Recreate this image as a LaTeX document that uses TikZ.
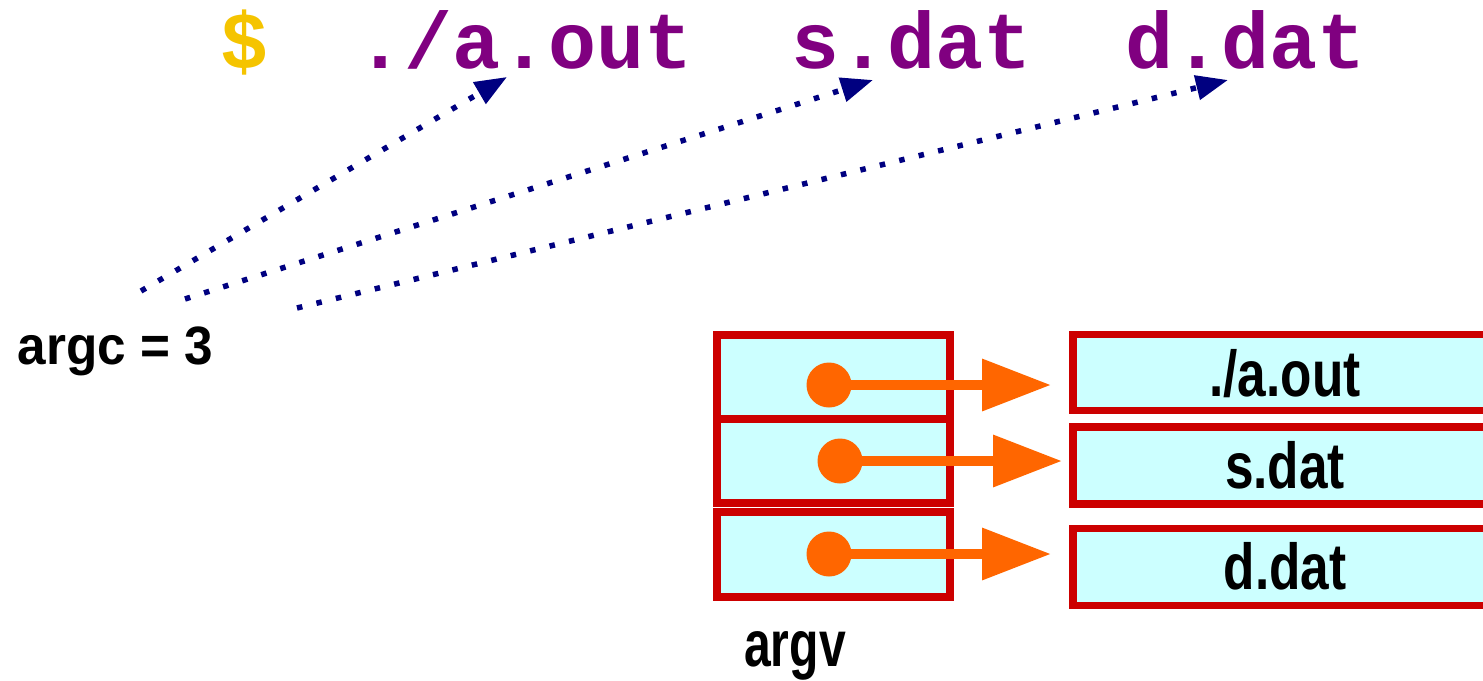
\documentclass[tikz,border=0pt]{standalone}
\usepackage{fontspec}
\usetikzlibrary{arrows.meta}
\newfontfamily\courfont{Liberation Mono}
\newfontfamily\argcfont[FakeStretch=0.95]{Liberation Sans}
\newfontfamily\boxfont[FakeStretch=0.79]{Liberation Sans}
\newfontfamily\argvfont[FakeStretch=0.74]{Liberation Sans}
\definecolor{cmdpurple}{HTML}{800080}
\definecolor{dollar}{HTML}{F5C400}
\definecolor{navyarrow}{HTML}{000080}
\definecolor{boxred}{HTML}{CC0000}
\definecolor{boxfill}{HTML}{CCFFFF}
\definecolor{ptrorange}{HTML}{FF6600}
\tikzset{
  cmdword/.style={anchor=base, inner sep=0pt, text=cmdpurple, font=\courfont\bfseries\fontsize{80}{86}\selectfont},
  cellbox/.style={draw=boxred, fill=boxfill, line width=7.5pt, minimum width=233pt, inner sep=0pt},
  strbox/.style={draw=boxred, fill=boxfill, line width=7.5pt, minimum width=422pt, inner sep=0pt},
  strtext/.style={anchor=base, inner sep=0pt, font=\boxfont\bfseries\fontsize{65}{70}\selectfont},
  dotarrow/.style={navyarrow, line width=5.5pt, dash pattern=on 5.5pt off 14.5pt, -{Triangle[length=32pt,width=24pt]}},
  ptrdot/.style={circle, fill=ptrorange, minimum size=45pt, inner sep=0pt},
  ptrarrow/.style={ptrorange, line width=10pt, -{Triangle[length=69pt,width=50pt]}}
}
\begin{document}
\begin{tikzpicture}[x=1pt,y=-1pt]
\useasboundingbox (0,0) rectangle (1483,680);
\clip (0,0) rectangle (1483,680);
% command line
\node[cmdword, text=dollar] (dollar) at (245,68) {\$};
\node[cmdword] (w1) at (525,68) {./a.out};
\node[cmdword] (w2) at (912,68) {s.dat};
\node[cmdword] (w3) at (1246,68) {d.dat};
% argc
\node[anchor=base, inner sep=0pt, font=\argcfont\bfseries\fontsize{54}{60}\selectfont] (argc) at (115.5,364) {argc = 3};
\coordinate (s1) at (141,291);
\coordinate (s2) at (185,299);
\coordinate (s3) at (297,308);
\coordinate (e1) at (507,77);
\coordinate (e2) at (873,80);
\coordinate (e3) at (1228,80);
\draw[dotarrow] (s1) -- (e1);
\draw[dotarrow] (s2) -- (e2);
\draw[dotarrow] (s3) -- (e3);
% argv cells
\node[cellbox, minimum height=84pt] (c1) at (833.5,377) {};
\node[cellbox, minimum height=84pt] (c2) at (833.5,461) {};
\node[cellbox, minimum height=85pt] (c3) at (833.5,554.5) {};
\node[anchor=base, inner sep=0pt, font=\argvfont\bfseries\fontsize{65}{70}\selectfont] (argv) at (795,666) {argv};
% strings
\node[strbox, minimum height=76pt] (r1) at (1284,372.5) {};
\node[strbox, minimum height=77pt] (r2) at (1284,465.5) {};
\node[strbox, minimum height=77pt] (r3) at (1284,567) {};
\node[strtext] (t1) at (1285,396) {./a.out};
\node[strtext] (t2) at (1285,488) {s.dat};
\node[strtext] (t3) at (1285,589) {d.dat};
% pointers
\node[ptrdot] (p1) at (829,385) {};
\node[ptrdot] (p2) at (840,461) {};
\node[ptrdot] (p3) at (829,554) {};
\coordinate (a1) at (1051,385);
\coordinate (a2) at (1062,461);
\coordinate (a3) at (1051,554);
\draw[ptrarrow] (p1.center) -- (a1);
\draw[ptrarrow] (p2.center) -- (a2);
\draw[ptrarrow] (p3.center) -- (a3);
\end{tikzpicture}
\end{document}
